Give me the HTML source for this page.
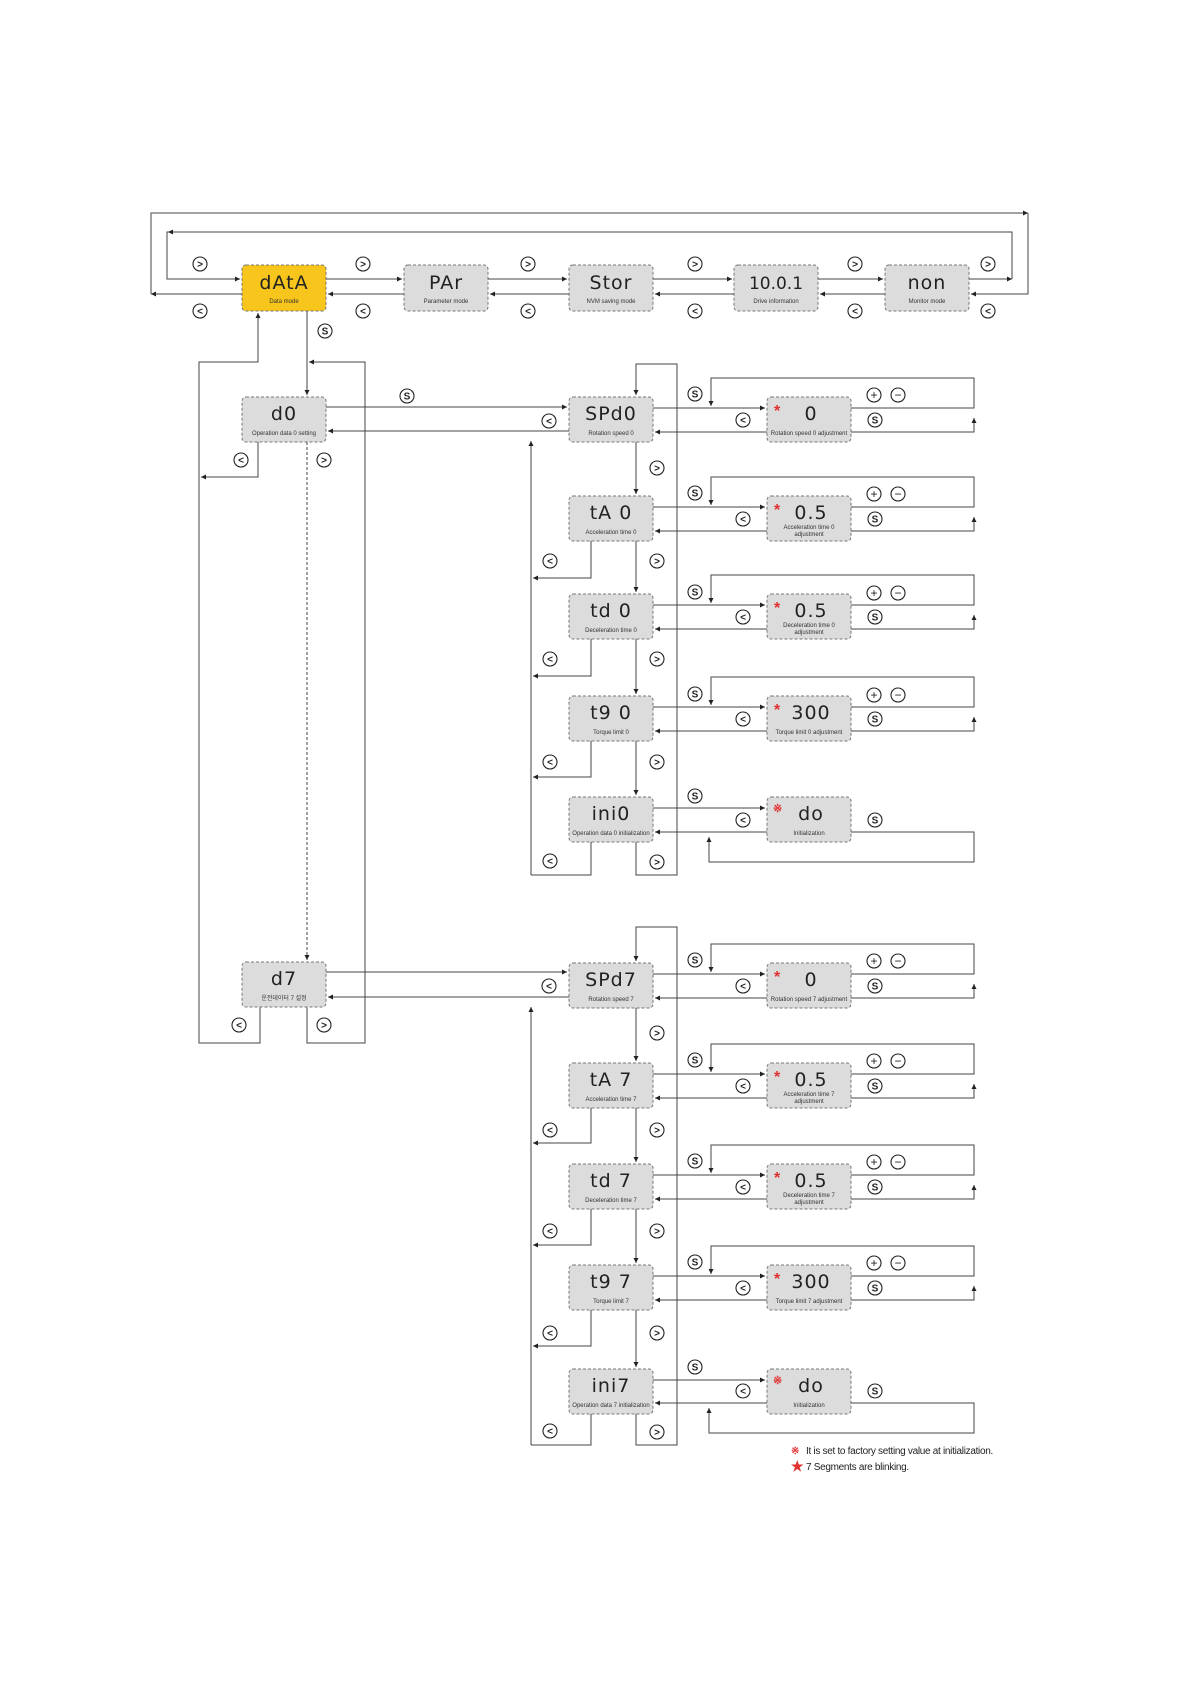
<!DOCTYPE html>
<html><head><meta charset="utf-8"><style>
html,body{margin:0;padding:0;background:#fff;}
svg{display:block}
.b{fill:#dcdcdc;stroke:#777;stroke-width:1;stroke-dasharray:3 2}
.y{fill:#f7c51c;stroke:#777;stroke-width:1;stroke-dasharray:3 2}
.l{fill:none;stroke:#444;stroke-width:1}
.big{font-family:"DejaVu Sans","Liberation Sans",sans-serif;font-size:19px;fill:#222;text-anchor:middle;font-weight:normal;letter-spacing:1px}
.lab{font-family:"Liberation Sans","Noto Sans CJK KR",sans-serif;font-size:6px;fill:#333;text-anchor:middle}
.c{fill:#fff;stroke:#222;stroke-width:1.1}
.ct{font-family:"Liberation Sans",sans-serif;font-size:10px;fill:#222;text-anchor:middle;font-weight:bold}
.st{font-family:"Liberation Sans",sans-serif;font-size:16px;fill:#e03030;font-weight:bold}
.note{font-family:"Liberation Sans",sans-serif;font-size:10px;fill:#222;letter-spacing:-0.3px}
</style></head><body>
<svg width="1191" height="1684" viewBox="0 0 1191 1684" xmlns="http://www.w3.org/2000/svg">
<defs>
<marker id="a" viewBox="0 0 6 6" refX="6" refY="3" markerWidth="5" markerHeight="5" orient="auto"><path d="M0,0 L6,3 L0,6 z" fill="#222"/></marker>
<g id="lt"><circle class="c" r="7"/><text class="ct" y="3.5">&lt;</text></g>
<g id="gt"><circle class="c" r="7"/><text class="ct" y="3.5">&gt;</text></g>
<g id="s"><circle class="c" r="7"/><text class="ct" y="3.5">S</text></g>
<g id="pl"><circle class="c" r="7"/><text class="ct" y="4" style="font-size:12px;font-weight:normal">+</text></g>
<g id="mi"><circle class="c" r="7"/><text class="ct" y="4" style="font-size:12px;font-weight:normal">−</text></g>
</defs>

<!-- TOP ROW -->
<rect class="y" x="242" y="265" width="84" height="46" rx="4"/>
<text class="big" x="284" y="289">dAtA</text><text class="lab" x="284" y="303">Data mode</text>
<rect class="b" x="404" y="265" width="84" height="46" rx="4"/>
<text class="big" x="446" y="289">PAr</text><text class="lab" x="446" y="303">Parameter mode</text>
<rect class="b" x="569" y="265" width="84" height="46" rx="4"/>
<text class="big" x="611" y="289">Stor</text><text class="lab" x="611" y="303">NVM saving mode</text>
<rect class="b" x="734" y="265" width="84" height="46" rx="4"/>
<text class="big" x="776" y="289" style="font-size:17px;letter-spacing:0">10.0.1</text><text class="lab" x="776" y="303">Drive information</text>
<rect class="b" x="885" y="265" width="84" height="46" rx="4"/>
<text class="big" x="927" y="289">non</text><text class="lab" x="927" y="303">Monitor mode</text>

<path class="l" d="M326 279H402" marker-end="url(#a)"/>
<path class="l" d="M488 279H567" marker-end="url(#a)"/>
<path class="l" d="M653 279H732" marker-end="url(#a)"/>
<path class="l" d="M818 279H883" marker-end="url(#a)"/>
<path class="l" d="M404 294H328" marker-end="url(#a)"/>
<path class="l" d="M569 294H490" marker-end="url(#a)"/>
<path class="l" d="M734 294H655" marker-end="url(#a)"/>
<path class="l" d="M885 294H820" marker-end="url(#a)"/>
<path class="l" d="M969 279H1012" marker-end="url(#a)"/>
<path class="l" d="M1012 279V232H167V279H240" marker-end="url(#a)"/>
<path class="l" d="M200 232H168" marker-end="url(#a)"/>
<path class="l" d="M242 294H151" marker-end="url(#a)"/>
<path class="l" d="M151 294V213H1028" marker-end="url(#a)"/>
<path class="l" d="M1028 213V294H971" marker-end="url(#a)"/>

<use href="#gt" x="200" y="264"/><use href="#gt" x="363" y="264"/><use href="#gt" x="528" y="264"/><use href="#gt" x="695" y="264"/><use href="#gt" x="855" y="264"/><use href="#gt" x="988" y="264"/>
<use href="#lt" x="200" y="311"/><use href="#lt" x="363" y="311"/><use href="#lt" x="528" y="311"/><use href="#lt" x="695" y="311"/><use href="#lt" x="855" y="311"/><use href="#lt" x="988" y="311"/>

<!-- LEFT D COLUMN -->
<use href="#s" x="325" y="331"/>
<path class="l" d="M307 311V395" marker-end="url(#a)"/>
<path class="l" d="M307 1007V1043H365V362H309" marker-end="url(#a)"/>
<path class="l" d="M260 1007V1043H199V362H258V313" marker-end="url(#a)"/>
<rect class="b" x="242" y="397" width="84" height="45" rx="4"/>
<text class="big" x="284" y="420">d0</text><text class="lab" x="284" y="435">Operation data 0 setting</text>
<path class="l" d="M258 442V477H201" marker-end="url(#a)"/>
<path class="l" d="M307 442V960" stroke-dasharray="3 2" marker-end="url(#a)"/>
<use href="#lt" x="241" y="460"/><use href="#gt" x="324" y="460"/>
<path class="l" d="M326 407H567" marker-end="url(#a)"/>
<path class="l" d="M569 431H328" marker-end="url(#a)"/>
<use href="#s" x="407" y="396"/><use href="#lt" x="549" y="421"/>

<rect class="b" x="242" y="962" width="84" height="45" rx="4"/>
<text class="big" x="284" y="985">d7</text><text class="lab" x="284" y="1000">운전데이터 7 설정</text>
<use href="#lt" x="239" y="1025"/><use href="#gt" x="324" y="1025"/>
<path class="l" d="M326 972H567" marker-end="url(#a)"/>
<path class="l" d="M569 997H328" marker-end="url(#a)"/>
<use href="#lt" x="549" y="986"/>

<!-- ROW GROUP 0 -->
<path class="l" d="M531 875V441" marker-end="url(#a)"/>
<path class="l" d="M591 842V875H531"/>
<path class="l" d="M636 842V875H677V364H636V395" marker-end="url(#a)"/>

<rect class="b" x="569" y="397" width="84" height="45" rx="4"/>
<text class="big" x="611" y="420">SPd0</text><text class="lab" x="611" y="435">Rotation speed 0</text>
<rect class="b" x="767" y="397" width="84" height="45" rx="4"/>
<text class="st" x="774" y="416">*</text><text class="big" x="811" y="420">0</text><text class="lab" x="809" y="435">Rotation speed 0 adjustment</text>
<path class="l" d="M653 408H765" marker-end="url(#a)"/><path class="l" d="M767 432H655" marker-end="url(#a)"/>
<path class="l" d="M851 408H974V378H711V406" marker-end="url(#a)"/><path class="l" d="M851 432H974V418" marker-end="url(#a)"/>
<use href="#s" x="695" y="394"/><use href="#lt" x="743" y="420"/><use href="#pl" x="874" y="395"/><use href="#mi" x="898" y="395"/><use href="#s" x="875" y="420"/>
<path class="l" d="M636 442V494" marker-end="url(#a)"/><use href="#gt" x="657" y="468"/>

<rect class="b" x="569" y="496" width="84" height="45" rx="4"/>
<text class="big" x="611" y="519">tA 0</text><text class="lab" x="611" y="534">Acceleration time 0</text>
<rect class="b" x="767" y="496" width="84" height="45" rx="4"/>
<text class="st" x="774" y="515">*</text><text class="big" x="811" y="519">0.5</text><text class="lab" x="809" y="529">Acceleration time 0</text><text class="lab" x="809" y="536">adjustment</text>
<path class="l" d="M653 507H765" marker-end="url(#a)"/><path class="l" d="M767 531H655" marker-end="url(#a)"/>
<path class="l" d="M851 507H974V477H711V505" marker-end="url(#a)"/><path class="l" d="M851 531H974V517" marker-end="url(#a)"/>
<use href="#s" x="695" y="493"/><use href="#lt" x="743" y="519"/><use href="#pl" x="874" y="494"/><use href="#mi" x="898" y="494"/><use href="#s" x="875" y="519"/>
<path class="l" d="M636 541V592" marker-end="url(#a)"/><use href="#gt" x="657" y="561"/>
<path class="l" d="M591 541V578H533" marker-end="url(#a)"/><use href="#lt" x="550" y="561"/>

<rect class="b" x="569" y="594" width="84" height="45" rx="4"/>
<text class="big" x="611" y="617">td 0</text><text class="lab" x="611" y="632">Deceleration time 0</text>
<rect class="b" x="767" y="594" width="84" height="45" rx="4"/>
<text class="st" x="774" y="613">*</text><text class="big" x="811" y="617">0.5</text><text class="lab" x="809" y="627">Deceleration time 0</text><text class="lab" x="809" y="634">adjustment</text>
<path class="l" d="M653 605H765" marker-end="url(#a)"/><path class="l" d="M767 629H655" marker-end="url(#a)"/>
<path class="l" d="M851 605H974V575H711V603" marker-end="url(#a)"/><path class="l" d="M851 629H974V615" marker-end="url(#a)"/>
<use href="#s" x="695" y="592"/><use href="#lt" x="743" y="617"/><use href="#pl" x="874" y="593"/><use href="#mi" x="898" y="593"/><use href="#s" x="875" y="617"/>
<path class="l" d="M636 639V694" marker-end="url(#a)"/><use href="#gt" x="657" y="659"/>
<path class="l" d="M591 639V676H533" marker-end="url(#a)"/><use href="#lt" x="550" y="659"/>

<rect class="b" x="569" y="696" width="84" height="45" rx="4"/>
<text class="big" x="611" y="719">t9 0</text><text class="lab" x="611" y="734">Torque limit 0</text>
<rect class="b" x="767" y="696" width="84" height="45" rx="4"/>
<text class="st" x="774" y="715">*</text><text class="big" x="811" y="719">300</text><text class="lab" x="809" y="734">Torque limit 0 adjustment</text>
<path class="l" d="M653 707H765" marker-end="url(#a)"/><path class="l" d="M767 731H655" marker-end="url(#a)"/>
<path class="l" d="M851 707H974V677H711V705" marker-end="url(#a)"/><path class="l" d="M851 731H974V717" marker-end="url(#a)"/>
<use href="#s" x="695" y="694"/><use href="#lt" x="743" y="719"/><use href="#pl" x="874" y="695"/><use href="#mi" x="898" y="695"/><use href="#s" x="875" y="719"/>
<path class="l" d="M636 741V795" marker-end="url(#a)"/><use href="#gt" x="657" y="762"/>
<path class="l" d="M591 741V777H533" marker-end="url(#a)"/><use href="#lt" x="550" y="762"/>

<rect class="b" x="569" y="797" width="84" height="45" rx="4"/>
<text class="big" x="611" y="820">ini0</text><text class="lab" x="611" y="835">Operation data 0 initialization</text>
<rect class="b" x="767" y="797" width="84" height="45" rx="4"/>
<text class="st" x="773" y="812" style="font-size:11px">※</text><text class="big" x="811" y="820">do</text><text class="lab" x="809" y="835">Initialization</text>
<path class="l" d="M653 808H765" marker-end="url(#a)"/><path class="l" d="M767 832H655" marker-end="url(#a)"/>
<path class="l" d="M851 832H974V862H709V837" marker-end="url(#a)"/>
<use href="#s" x="695" y="796"/><use href="#lt" x="743" y="820"/><use href="#s" x="875" y="820"/>
<use href="#lt" x="550" y="861"/><use href="#gt" x="657" y="862"/>

<!-- ROW GROUP 7 -->
<path class="l" d="M531 1445V1007" marker-end="url(#a)"/>
<path class="l" d="M591 1414V1445H531"/>
<path class="l" d="M636 1414V1445H677V927H636V961" marker-end="url(#a)"/>

<rect class="b" x="569" y="963" width="84" height="45" rx="4"/>
<text class="big" x="611" y="986">SPd7</text><text class="lab" x="611" y="1001">Rotation speed 7</text>
<rect class="b" x="767" y="963" width="84" height="45" rx="4"/>
<text class="st" x="774" y="982">*</text><text class="big" x="811" y="986">0</text><text class="lab" x="809" y="1001">Rotation speed 7 adjustment</text>
<path class="l" d="M653 974H765" marker-end="url(#a)"/><path class="l" d="M767 998H655" marker-end="url(#a)"/>
<path class="l" d="M851 974H974V944H711V972" marker-end="url(#a)"/><path class="l" d="M851 998H974V984" marker-end="url(#a)"/>
<use href="#s" x="695" y="960"/><use href="#lt" x="743" y="986"/><use href="#pl" x="874" y="961"/><use href="#mi" x="898" y="961"/><use href="#s" x="875" y="986"/>
<path class="l" d="M636 1008V1061" marker-end="url(#a)"/><use href="#gt" x="657" y="1033"/>

<rect class="b" x="569" y="1063" width="84" height="45" rx="4"/>
<text class="big" x="611" y="1086">tA 7</text><text class="lab" x="611" y="1101">Acceleration time 7</text>
<rect class="b" x="767" y="1063" width="84" height="45" rx="4"/>
<text class="st" x="774" y="1082">*</text><text class="big" x="811" y="1086">0.5</text><text class="lab" x="809" y="1096">Acceleration time 7</text><text class="lab" x="809" y="1103">adjustment</text>
<path class="l" d="M653 1074H765" marker-end="url(#a)"/><path class="l" d="M767 1098H655" marker-end="url(#a)"/>
<path class="l" d="M851 1074H974V1044H711V1072" marker-end="url(#a)"/><path class="l" d="M851 1098H974V1084" marker-end="url(#a)"/>
<use href="#s" x="695" y="1060"/><use href="#lt" x="743" y="1086"/><use href="#pl" x="874" y="1061"/><use href="#mi" x="898" y="1061"/><use href="#s" x="875" y="1086"/>
<path class="l" d="M636 1108V1162" marker-end="url(#a)"/><use href="#gt" x="657" y="1130"/>
<path class="l" d="M591 1108V1143H533" marker-end="url(#a)"/><use href="#lt" x="550" y="1130"/>

<rect class="b" x="569" y="1164" width="84" height="45" rx="4"/>
<text class="big" x="611" y="1187">td 7</text><text class="lab" x="611" y="1202">Deceleration time 7</text>
<rect class="b" x="767" y="1164" width="84" height="45" rx="4"/>
<text class="st" x="774" y="1183">*</text><text class="big" x="811" y="1187">0.5</text><text class="lab" x="809" y="1197">Deceleration time 7</text><text class="lab" x="809" y="1204">adjustment</text>
<path class="l" d="M653 1175H765" marker-end="url(#a)"/><path class="l" d="M767 1199H655" marker-end="url(#a)"/>
<path class="l" d="M851 1175H974V1145H711V1173" marker-end="url(#a)"/><path class="l" d="M851 1199H974V1185" marker-end="url(#a)"/>
<use href="#s" x="695" y="1161"/><use href="#lt" x="743" y="1187"/><use href="#pl" x="874" y="1162"/><use href="#mi" x="898" y="1162"/><use href="#s" x="875" y="1187"/>
<path class="l" d="M636 1209V1263" marker-end="url(#a)"/><use href="#gt" x="657" y="1231"/>
<path class="l" d="M591 1209V1245H533" marker-end="url(#a)"/><use href="#lt" x="550" y="1231"/>

<rect class="b" x="569" y="1265" width="84" height="45" rx="4"/>
<text class="big" x="611" y="1288">t9 7</text><text class="lab" x="611" y="1303">Torque limit 7</text>
<rect class="b" x="767" y="1265" width="84" height="45" rx="4"/>
<text class="st" x="774" y="1284">*</text><text class="big" x="811" y="1288">300</text><text class="lab" x="809" y="1303">Torque limit 7 adjustment</text>
<path class="l" d="M653 1276H765" marker-end="url(#a)"/><path class="l" d="M767 1300H655" marker-end="url(#a)"/>
<path class="l" d="M851 1276H974V1246H711V1274" marker-end="url(#a)"/><path class="l" d="M851 1300H974V1286" marker-end="url(#a)"/>
<use href="#s" x="695" y="1262"/><use href="#lt" x="743" y="1288"/><use href="#pl" x="874" y="1263"/><use href="#mi" x="898" y="1263"/><use href="#s" x="875" y="1288"/>
<path class="l" d="M636 1310V1367" marker-end="url(#a)"/><use href="#gt" x="657" y="1333"/>
<path class="l" d="M591 1310V1346H533" marker-end="url(#a)"/><use href="#lt" x="550" y="1333"/>

<rect class="b" x="569" y="1369" width="84" height="45" rx="4"/>
<text class="big" x="611" y="1392">ini7</text><text class="lab" x="611" y="1407">Operation data 7 initialization</text>
<rect class="b" x="767" y="1369" width="84" height="45" rx="4"/>
<text class="st" x="773" y="1384" style="font-size:11px">※</text><text class="big" x="811" y="1392">do</text><text class="lab" x="809" y="1407">Initialization</text>
<path class="l" d="M653 1380H765" marker-end="url(#a)"/><path class="l" d="M767 1403H655" marker-end="url(#a)"/>
<path class="l" d="M851 1403H974V1433H709V1408" marker-end="url(#a)"/>
<use href="#s" x="695" y="1367"/><use href="#lt" x="743" y="1391"/><use href="#s" x="875" y="1391"/>
<use href="#lt" x="550" y="1431"/><use href="#gt" x="657" y="1432"/>

<!-- NOTES -->
<text class="st" x="791" y="1454" style="font-size:10px">※</text><text class="note" x="806" y="1454">It is set to factory setting value at initialization.</text>
<text class="st" x="791" y="1471" style="font-size:14px">★</text><text class="note" x="806" y="1470">7 Segments are blinking.</text>
</svg>
</body></html>
